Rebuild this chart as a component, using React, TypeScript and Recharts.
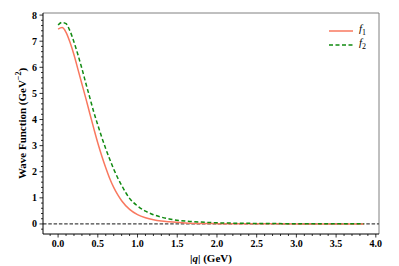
import { Line, LineChart, ReferenceLine, XAxis, YAxis } from "recharts";

// |q| in GeV
const qValues = [0, 0.05, 0.1, 0.15, 0.2, 0.25, 0.3, 0.35, 0.4, 0.45, 0.5, 0.55, 0.6, 0.65, 0.7, 0.75, 0.8, 0.9, 1.0, 1.1, 1.2, 1.3, 1.4, 1.6, 1.8, 2.0, 2.5, 3.0, 3.5, 3.85];
const f1Values = [7.46, 7.52, 7.34, 6.96, 6.48, 5.92, 5.36, 4.8, 4.22, 3.65, 3.1, 2.6, 2.15, 1.74, 1.4, 1.12, 0.89, 0.56, 0.36, 0.24, 0.16, 0.11, 0.08, 0.04, 0.02, 0.012, 0.005, 0.002, 0.001, 0.0005];
const f2Values = [7.62, 7.72, 7.67, 7.39, 6.97, 6.48, 5.95, 5.38, 4.83, 4.28, 3.79, 3.32, 2.88, 2.48, 2.1, 1.77, 1.48, 0.98, 0.69, 0.49, 0.355, 0.26, 0.19, 0.11, 0.07, 0.045, 0.02, 0.01, 0.006, 0.004];

const xTicks = [-0.1, 0, 0.1, 0.2, 0.3, 0.4, 0.5, 0.6, 0.7, 0.8, 0.9, 1.0, 1.1, 1.2, 1.3, 1.4, 1.5, 1.6, 1.7, 1.8, 1.9, 2.0, 2.1, 2.2, 2.3, 2.4, 2.5, 2.6, 2.7, 2.8, 2.9, 3.0, 3.1, 3.2, 3.3, 3.4, 3.5, 3.6, 3.7, 3.8, 3.9, 4.0];
const yTicks = [-0.2, 0, 0.2, 0.4, 0.6, 0.8, 1, 1.2, 1.4, 1.6, 1.8, 2, 2.2, 2.4, 2.6, 2.8, 3, 3.2, 3.4, 3.6, 3.8, 4, 4.2, 4.4, 4.6, 4.8, 5, 5.2, 5.4, 5.6, 5.8, 6, 6.2, 6.4, 6.6, 6.8, 7, 7.2, 7.4, 7.6, 7.8, 8];

const data = qValues.map((q, i) => ({ q, f1: f1Values[i], f2: f2Values[i] }));

const serif = "'Liberation Serif', 'Times New Roman', serif";
const red = "#f9785f";
const green = "#118a11";

const isStep = (v: number, step: number) => Math.abs(v / step - Math.round(v / step)) < 1e-6;

function XTick(props: any) {
  const { x, y, payload } = props;
  const v = payload.value as number;
  const major = isStep(v, 0.5);
  return (
    <g>
      <line x1={x} x2={x} y1={y} y2={y + (major ? 3.5 : 2)} stroke="#000" strokeWidth={0.8} />
      {major && (
        <text x={x} y={y + 13} textAnchor="middle" fontFamily={serif} fontWeight="bold" fontSize={10} fill="#000">
          {v.toFixed(1)}
        </text>
      )}
    </g>
  );
}

function YTick(props: any) {
  const { x, y, payload } = props;
  const v = payload.value as number;
  const major = isStep(v, 1);
  return (
    <g>
      <line x1={x} x2={x - (major ? 3.5 : 2)} y1={y} y2={y} stroke="#000" strokeWidth={0.8} />
      {major && (
        <text x={x - 6} y={y + 3.5} textAnchor="end" fontFamily={serif} fontWeight="bold" fontSize={10} fill="#000">
          {v}
        </text>
      )}
    </g>
  );
}

function Legend() {
  const row = (color: string, dash: string | undefined, sub: string, top: number) => (
    <div style={{ position: "absolute", left: 329, top, display: "flex", alignItems: "center" }}>
      <svg width={24} height={6}>
        <line x1={0} x2={24} y1={3} y2={3} stroke={color} strokeWidth={1.5} strokeDasharray={dash} />
      </svg>
      <span style={{ marginLeft: 6, fontFamily: serif, fontStyle: "italic", fontSize: 11, lineHeight: "11px" }}>
        f<sub style={{ fontSize: 8, fontStyle: "normal" }}>{sub}</sub>
      </span>
    </div>
  );
  return (
    <>
      {row(red, undefined, "1", 23)}
      {row(green, "4 2.5", "2", 37)}
    </>
  );
}

export default function App() {
  return (
    <div style={{ position: "absolute", left: 0, top: 0, width: 399, height: 266, background: "#fff" }}>
      <LineChart width={399} height={266} data={data} margin={{ top: 13, right: 20, bottom: 7, left: 13 }}>
        <XAxis
          dataKey="q"
          type="number"
          domain={[-0.19, 4.04]}
          ticks={xTicks}
          interval={0}
          tickSize={0}
          tickMargin={0}
          height={25}
          tick={<XTick />}
          axisLine={{ stroke: "#000", strokeWidth: 1 }}
          tickLine={false}
          allowDataOverflow
        />
        <YAxis
          type="number"
          domain={[-0.385, 8.08]}
          ticks={yTicks}
          interval={0}
          tickSize={0}
          tickMargin={0}
          width={30}
          tick={<YTick />}
          axisLine={{ stroke: "#000", strokeWidth: 1 }}
          tickLine={false}
          allowDataOverflow
          label={() => (
            <text
              x={22}
              y={123.5}
              transform="rotate(-90 22 123.5)"
              textAnchor="middle"
              dominantBaseline="central"
              fontFamily={serif}
              fontWeight="bold"
              fontSize={11}
              fill="#000"
            >
              Wave Function (GeV
              <tspan dy={-4} fontSize={8}>−2</tspan>
              <tspan dy={4}>)</tspan>
            </text>
          )}
        />
        <ReferenceLine y={8.08} stroke="#808080" strokeWidth={1} ifOverflow="visible" />
        <ReferenceLine x={4.04} stroke="#808080" strokeWidth={1} ifOverflow="visible" />
        <ReferenceLine y={0} stroke="#444" strokeWidth={1.2} strokeDasharray="3.5 1.8" />
        <Line type="monotone" dataKey="f1" stroke={red} strokeWidth={1.5} dot={false} isAnimationActive={false} />
        <Line type="monotone" dataKey="f2" stroke={green} strokeWidth={1.5} strokeDasharray="4 2.5" dot={false} isAnimationActive={false} />
        <text x={211} y={262} textAnchor="middle" fontFamily={serif} fontWeight="bold" fontSize={11} fill="#000">
          |<tspan fontStyle="italic">q</tspan>| (GeV)
        </text>
      </LineChart>
      <Legend />
    </div>
  );
}
